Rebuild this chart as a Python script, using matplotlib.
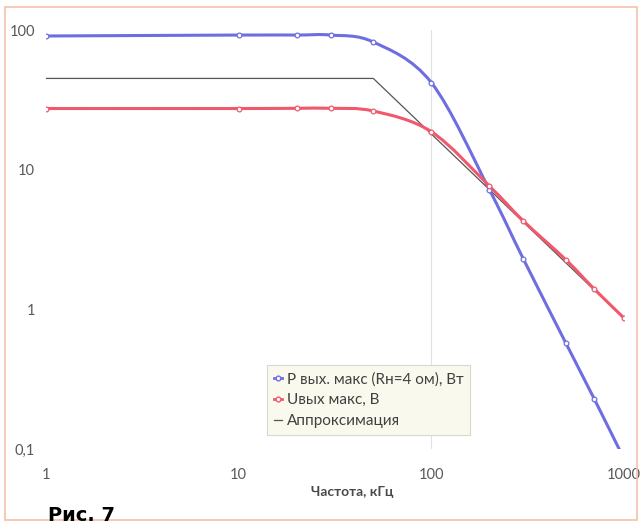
import numpy as np
import matplotlib
matplotlib.use("Agg")
import matplotlib.pyplot as plt
from matplotlib.path import Path
from matplotlib.patches import PathPatch, Rectangle
from matplotlib.lines import Line2D
from matplotlib.ticker import FixedLocator, FixedFormatter, NullLocator

plt.rcParams['font.family'] = ['Lato', 'DejaVu Sans']

# Data
freq_khz = [1, 10, 20, 30, 50, 100, 200, 300, 500, 700, 1000]
p_out_w = [90.6, 92, 92, 92, 82, 42, 7.2, 2.3, 0.57, 0.229, 0.085]
u_out_v = [27.4, 27.4, 27.5, 27.5, 26.3, 18.7, 7.64, 4.3, 2.26, 1.40, 0.867]
approx_f = [1, 50, 1000]
approx_v = [45, 45, 0.86]

x_ticks = [1, 10, 100, 1000]
x_labels = ["1", "10", "100", "1000"]
y_ticks = [0.1, 1, 10, 100]
y_labels = ["0,1", "1", "10", "100"]

BLUE = '#6e6ee2'
RED = '#f2586c'
GREY_TXT = '#595959'


def smooth_path(xs, ys):
    """Excel-like smoothed line: Catmull-Rom -> cubic Bezier in log-log space."""
    lx = np.log10(xs)
    ly = np.log10(ys)
    pts = np.column_stack([lx, ly])
    n = len(pts)
    verts = [pts[0]]
    codes = [Path.MOVETO]
    for i in range(n - 1):
        p0 = pts[i - 1] if i > 0 else pts[i]
        p1 = pts[i]
        p2 = pts[i + 1]
        p3 = pts[i + 2] if i + 2 < n else pts[i + 1]
        c1 = p1 + (p2 - p0) / 6.0
        c2 = p2 - (p3 - p1) / 6.0
        verts += [c1, c2, p2]
        codes += [Path.CURVE4] * 3
    verts = 10 ** np.array(verts)
    return Path(verts, codes)


fig = plt.figure(figsize=(6.4, 5.26), dpi=100)
ax = fig.add_axes([46 / 640, 1 - 449 / 526, 578 / 640, 419 / 526])
ax.set_xscale('log')
ax.set_yscale('log')
ax.set_xlim(1, 1000)
ax.set_ylim(0.1, 100)

for s in ax.spines.values():
    s.set_visible(False)

ax.axvline(100, color='#e2e2e2', lw=0.8, zorder=0)

# smoothed lines
for xs, ys, col in [(freq_khz, p_out_w, BLUE), (freq_khz, u_out_v, RED)]:
    ax.add_patch(PathPatch(smooth_path(xs, ys), facecolor='none',
                           edgecolor=col, lw=2.2, zorder=3))
    ax.plot(xs, ys, ls='none', marker='o', ms=3.4, mfc='white', mec=col,
            mew=0.9, zorder=4)

ax.plot(approx_f, approx_v, color='#555555', lw=0.9, zorder=2)

ax.xaxis.set_major_locator(FixedLocator(x_ticks))
ax.xaxis.set_major_formatter(FixedFormatter(x_labels))
ax.xaxis.set_minor_locator(NullLocator())
ax.yaxis.set_major_locator(FixedLocator(y_ticks))
ax.yaxis.set_major_formatter(FixedFormatter(y_labels))
ax.yaxis.set_minor_locator(NullLocator())
ax.tick_params(axis='both', length=0, labelsize=10.5, labelcolor=GREY_TXT)
ax.tick_params(axis='x', pad=14)
ax.tick_params(axis='y', pad=8)

fig.text(352 / 640, 1 - 492 / 526, "Частота, кГц", ha='center', va='center',
         fontsize=10, fontweight='bold', color='#4a4a4a')

# legend
handles = [
    Line2D([], [], color=BLUE, lw=2, marker='o', ms=3.4, mfc='white', mec=BLUE),
    Line2D([], [], color=RED, lw=2, marker='o', ms=3.4, mfc='white', mec=RED),
    Line2D([], [], color='#555555', lw=0.9),
]
labels = ["P вых. макс (Rн=4 ом), Вт", "Uвых макс, В", "Аппроксимация"]
leg = ax.legend(handles, labels, loc='upper left',
                bbox_to_anchor=((267 - 46) / 578, (449 - 365) / 419),
                borderaxespad=0,
                fontsize=11, handlelength=0.55, handletextpad=0.3,
                labelspacing=0.45, borderpad=0.45, frameon=True, fancybox=False,
                facecolor='#f9f9ee', edgecolor='#d8d8d0', framealpha=1.0,
                labelcolor='#404040')
leg.get_frame().set_linewidth(0.8)

# outer chart border
fig.patches.append(Rectangle((5 / 640, 1 - 520 / 526), 632 / 640, 513 / 526,
                             transform=fig.transFigure, fill=False,
                             edgecolor='#f5c0a8', lw=1.2))

fig.text(48 / 640, 1 - 525 / 526, "Рис. 7", ha='left', va='bottom',
         fontsize=14, fontweight='bold', color='black', family='DejaVu Sans')

fig.savefig('out.png', dpi=100, facecolor='white')
